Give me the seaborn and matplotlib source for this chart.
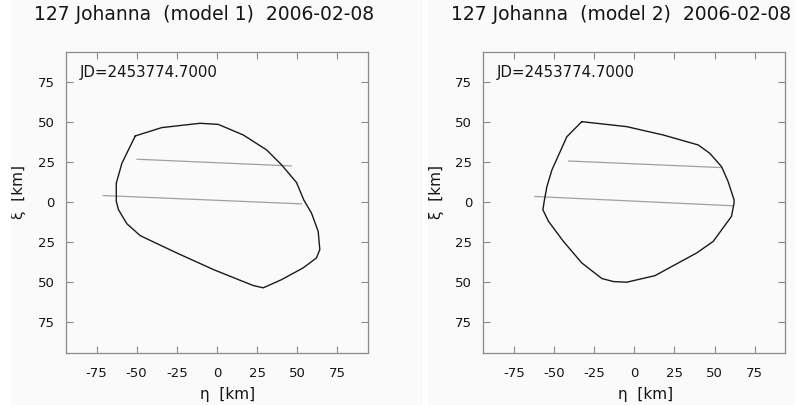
import numpy as np
import pandas as pd
import matplotlib
matplotlib.use("Agg")
import matplotlib.pyplot as plt
from matplotlib.ticker import FixedLocator, FuncFormatter
from matplotlib.patches import Rectangle
import seaborn as sns

# ---------------- data ----------------
titles = ["127 Johanna  (model 1)  2006-02-08", "127 Johanna  (model 2)  2006-02-08"]
jd_label = "JD=2453774.7000"
tick_values = [-75, -50, -25, 0, 25, 50, 75]

# model 1 outline (eta, xi in km)
eta1 = [-50.9, -34.4, -10.6, 0.8, 16.4, 30.9, 40.2, 49.5, 54.0, 58.8, 63.0, 64.0,
        61.9, 53.6, 40.2, 28.8, 22.6, -2.3, -25.0, -47.8, -56.1, -61.3, -62.7,
        -62.7, -59.2, -50.9]
xi1 = [41.2, 46.4, 49.1, 48.4, 41.8, 32.5, 23.2, 12.2, 1.4, -6.8, -18.3, -29.6,
       -34.8, -41.0, -48.3, -53.4, -52.0, -42.0, -31.7, -20.9, -13.5, -4.8, 0.4,
       11.8, 24.2, 41.2]

# model 2 outline
eta2 = [-32.7, -4.7, 18.0, 39.8, 47.0, 54.3, 58.4, 62.1, 62.1, 60.5, 49.1, 38.8,
        12.9, -4.7, -13.0, -20.2, -32.7, -44.1, -53.4, -56.9, -56.1, -54.4, -51.3,
        -42.0, -32.7]
xi2 = [50.1, 47.0, 41.8, 35.6, 30.4, 22.1, 12.8, 1.4, -0.6, -8.9, -24.5, -31.7,
       -45.8, -49.9, -49.5, -47.6, -37.9, -24.5, -12.0, -4.8, 0.4, 9.7, 20.0,
       40.7, 50.1]

# occultation chords: (eta_start, eta_end), (xi_start, xi_end)
chords1_eta = [[-49.9, 46.4], [-71.0, 52.6]]
chords1_xi = [[26.7, 22.5], [4.1, -1.1]]
chords2_eta = [[-41.0, 54.3], [-62.1, 61.5]]
chords2_xi = [[25.6, 21.5], [3.5, -2.3]]

# ---------------- style ----------------
sns.set_theme(style="ticks")
plt.rcParams["font.family"] = ["DejaVu Sans"]
BG = "#fafafa"
FRAME = "#8a8a8a"
TXT = "#151515"

W, H = 795, 405
fig = plt.figure(figsize=(W / 100, H / 100), dpi=100, facecolor=BG)
fig.patches.append(Rectangle((0, 0), 11 / W, 1, transform=fig.transFigure,
                             facecolor="white", edgecolor="none", zorder=0))
fig.patches.append(Rectangle((423 / W, 0), 5 / W, 1, transform=fig.transFigure,
                             facecolor="white", edgecolor="none", zorder=0))

panels = [
    (66, eta1, xi1, chords1_eta, chords1_xi, titles[0], 204),
    (483.3, eta2, xi2, chords2_eta, chords2_xi, titles[1], 621),
]

ax_w, ax_h = 302, 301
ax_bottom = 405 - 353

for left, eta, xi, ceta, cxi, title, tx in panels:
    ax = fig.add_axes([left / W, ax_bottom / H, ax_w / W, ax_h / H])
    ax.set_facecolor(BG)

    # chords
    rows = []
    for i, (ex, yx) in enumerate(zip(ceta, cxi)):
        for e, y in zip(ex, yx):
            rows.append({"chord": i, "eta": e, "xi": y})
    cdf = pd.DataFrame(rows)
    sns.lineplot(data=cdf, x="eta", y="xi", units="chord", estimator=None,
                 sort=False, color="#a0a0a0", lw=0.9, ax=ax, legend=False)

    # outline
    odf = pd.DataFrame({"eta": eta, "xi": xi})
    sns.lineplot(data=odf, x="eta", y="xi", sort=False, estimator=None,
                 color="#1a1a1a", lw=1.0, ax=ax)

    ax.set_xlim(-94, 94)
    ax.set_ylim(-94, 93.5)
    ax.xaxis.set_major_locator(FixedLocator(tick_values))
    ax.yaxis.set_major_locator(FixedLocator(tick_values))
    ax.xaxis.set_major_formatter(FuncFormatter(lambda v, p: f"{int(round(v))}"))
    ax.yaxis.set_major_formatter(FuncFormatter(lambda v, p: f"{abs(int(round(v)))}"))
    ax.tick_params(axis="both", direction="in", length=5, width=0.8,
                   color=FRAME, top=True, right=True, labelsize=9.5,
                   labelcolor=TXT)
    ax.tick_params(axis="x", pad=10)
    ax.tick_params(axis="y", pad=8)
    for s in ax.spines.values():
        s.set_color(FRAME)
        s.set_linewidth(0.9)

    ax.set_xlabel("η  [km]", fontsize=11, color=TXT)
    ax.set_ylabel("ξ  [km]", fontsize=11, color=TXT)
    ax.xaxis.set_label_coords(162 / ax_w, -41 / ax_h)
    ax.xaxis.label.set_va("center")
    ax.yaxis.set_label_coords(-47 / ax_w, 0.535)
    ax.yaxis.label.set_va("center")
    ax.yaxis.label.set_rotation_mode("anchor")

    ax.text(0.046, 0.931, jd_label, transform=ax.transAxes, fontsize=10.8,
            ha="left", va="center", color=TXT)

    fig.text(tx / W, 1 - 15 / H, title, fontsize=13.5, ha="center",
             va="center", color=TXT)

fig.savefig("out.png", dpi=100, facecolor=fig.get_facecolor())
